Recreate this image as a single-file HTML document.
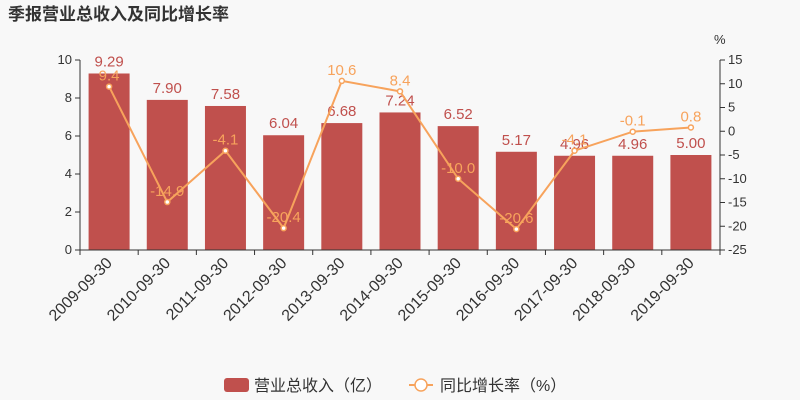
<!DOCTYPE html>
<html><head><meta charset="utf-8"><style>
body{margin:0;background:#f8f8f8;}
svg{display:block;font-family:"Liberation Sans","Noto Sans CJK SC",sans-serif;}
</style></head><body>
<svg id="c" width="800" height="400">
<rect width="800" height="400" fill="#f8f8f8"/>
<text x="8" y="20" font-size="17" font-weight="bold" fill="#333">季报营业总收入及同比增长率</text>
<g id="g"></g>
<g>
<rect x="224" y="378" width="25" height="14" rx="3" fill="#c0504d"/>
<text x="254" y="391" font-size="16" fill="#333">营业总收入（亿）</text>
<line x1="409" y1="385" x2="433" y2="385" stroke="#f7a35c" stroke-width="2"/>
<circle cx="421" cy="385" r="6" fill="#fff" stroke="#f7a35c" stroke-width="1.5"/>
<text x="440" y="391" font-size="16" fill="#333">同比增长率（%）</text>
</g>
</svg>
<script>
const categories=["2009-09-30","2010-09-30","2011-09-30","2012-09-30","2013-09-30","2014-09-30","2015-09-30","2016-09-30","2017-09-30","2018-09-30","2019-09-30"];
const revenue=[9.29,7.90,7.58,6.04,6.68,7.24,6.52,5.17,4.96,4.96,5.00];
const growth=[9.4,-14.9,-4.1,-20.4,10.6,8.4,-10.0,-20.6,-4.1,-0.1,0.8];
const leftTicks=[0,2,4,6,8,10];
const rightTicks=[15,10,5,0,-5,-10,-15,-20,-25];
const NS="http://www.w3.org/2000/svg";
const g=document.getElementById('g');
const X0=80,X1=720,Y0=250,Y1=60;
const step=(X1-X0)/categories.length;
const xc=i=>X0+step*(i+0.5);
const yL=v=>Y0-(v/10)*(Y0-Y1);
const yR=v=>Y0-((v+25)/40)*(Y0-Y1);
function mk(t,a,txt){const e=document.createElementNS(NS,t);for(const k in a)e.setAttribute(k,a[k]);if(txt!=null)e.textContent=txt;g.appendChild(e);return e;}
// axes
let e=mk('line',{x1:X0,y1:Y1,x2:X0,y2:Y0,stroke:'#333'});


e=mk('line',{x1:X1,y1:Y1,x2:X1,y2:Y0,stroke:'#333'});


leftTicks.forEach(v=>{mk('line',{x1:X0-5,y1:yL(v),x2:X0,y2:yL(v),stroke:'#333'});
 e=mk('text',{x:X0-8,y:yL(v)+4,'font-size':13,fill:'#333','text-anchor':'end'},v);
 
 });
rightTicks.forEach(v=>{mk('line',{x1:X1,y1:yR(v),x2:X1+5,y2:yR(v),stroke:'#333'});
 e=mk('text',{x:X1+8,y:yR(v)+4,'font-size':13,fill:'#333'},v);
 
 });
e=mk('text',{x:714,y:44,'font-size':13,fill:'#333'},'%');


// bars
const bw=41;
revenue.forEach((v,i)=>{
 e=mk('rect',{x:xc(i)-bw/2,y:yL(v),width:bw,height:Y0-yL(v),fill:'#c0504d'});
 
 
 e=mk('text',{x:xc(i),y:yL(v)-7,'font-size':15,fill:'#c0504d','text-anchor':'middle'},v.toFixed(2));
 
 
});
e=mk('line',{x1:X0,y1:Y0,x2:X1,y2:Y0,stroke:'#333'});


categories.forEach((c,i)=>{
 mk('line',{x1:X0+step*i,y1:Y0,x2:X0+step*i,y2:Y0+5,stroke:'#333'});
 e=mk('text',{x:xc(i)+4,y:Y0+14,'font-size':16,fill:'#333','text-anchor':'end',transform:`rotate(-45 ${xc(i)+4} ${Y0+14})`},c);
 
 
});
mk('line',{x1:X1,y1:Y0,x2:X1,y2:Y0+5,stroke:'#333'});
// line
e=mk('polyline',{points:growth.map((v,i)=>xc(i)+','+yR(v)).join(' '),fill:'none',stroke:'#f7a35c','stroke-width':2});


growth.forEach((v,i)=>{
 e=mk('circle',{cx:xc(i),cy:yR(v),r:2.5,fill:'#fff',stroke:'#f7a35c','stroke-width':1.5});
 
 
 e=mk('text',{x:xc(i),y:yR(v)-6,'font-size':15,fill:'#f7a35c','text-anchor':'middle'},v.toFixed(1));
 
 
});
</script>
</body></html>
